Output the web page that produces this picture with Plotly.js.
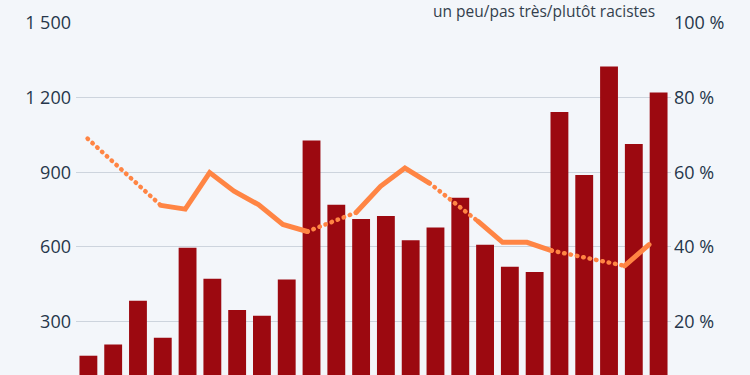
<!DOCTYPE html>
<html><head><meta charset="utf-8">
<script src="https://cdn.plot.ly/plotly-3.0.1.min.js"></script>
<style>
html,body{margin:0;padding:0;overflow:hidden;background:#f3f6fa;}
#chart{width:750px;height:430px;}
path.js-line{stroke-linecap:round;}
</style></head><body><div id="chart"></div>
<script>
// Data
const periods = [0,1,2,3,4,5,6,7,8,9,10,11,12,13,14,15,16,17,18,19,20,21,22,23];
const counts = [162,207,383,234,596,472,346,323,469,1027,769,712,724,626,678,797,608,520,499,1142,889,1325,1013,1221];
const sharePct = [69.0,null,null,51.1,50.1,59.9,54.9,51.3,46.0,44.1,null,49.2,56.2,61.1,57.1,null,46.8,41.2,41.2,39.0,null,null,34.9,40.6];
const leftTickVals = [300,600,900,1200,1500];
const leftTickText = ['300','600','900','1 200','1 500'];
const rightTickVals = [20,40,60,80,100];
const rightTickText = ['20 %','40 %','60 %','80 %','100 %'];
const legendText = 'un peu/pas très/plutôt racistes';

// Build dotted connectors across missing values
const dotX = [], dotY = [];
for (let i = 0; i < sharePct.length; i++) {
  if (sharePct[i] === null) {
    let a = i - 1; let b = i;
    while (b < sharePct.length && sharePct[b] === null) b++;
    if (a >= 0 && b < sharePct.length) {
      dotX.push(periods[a], periods[b], null);
      dotY.push(sharePct[a], sharePct[b], null);
    }
    i = b - 1;
  }
}

const barColor = '#9c0910';
const lineColor = '#ff8544';
const textColor = '#26364b';

const traces = [
  {type:'bar', x:periods, y:counts, marker:{color:barColor, line:{width:0}}, xaxis:'x', yaxis:'y', hoverinfo:'skip'},
  {type:'scatter', mode:'lines', x:dotX, y:dotY, connectgaps:false, line:{color:lineColor, width:4.5, dash:'0.5px,6px'}, xaxis:'x2', yaxis:'y2', hoverinfo:'skip'},
  {type:'scatter', mode:'lines', x:periods, y:sharePct, connectgaps:false, line:{color:lineColor, width:5}, xaxis:'x2', yaxis:'y2', hoverinfo:'skip'}
];

const layout = {
  width:750, height:430,
  margin:{l:76, r:79, t:23, b:34},
  paper_bgcolor:'#f3f6fa', plot_bgcolor:'#f3f6fa',
  font:{family:'"Open Sans", "Noto Sans", sans-serif', size:18, color:textColor},
  showlegend:false,
  bargap:0.28,
  xaxis:{range:[-0.5,23.5], showticklabels:false, showgrid:false, zeroline:false, ticks:'', fixedrange:true},
  xaxis2:{range:[-0.475,23.9], overlaying:'x', visible:false, fixedrange:true},
  yaxis:{range:[0,1500], tickvals:leftTickVals, ticktext:leftTickText, showgrid:true, gridcolor:'#cdd4dd', gridwidth:1, zeroline:false, ticks:'', showline:false, ticklabelstandoff:4},
  yaxis2:{range:[0,100], overlaying:'y', side:'right', tickvals:rightTickVals, ticktext:rightTickText, showgrid:false, zeroline:false, ticks:'', showline:false, ticklabelstandoff:2},
  annotations:[{text:legendText, xref:'paper', yref:'paper', x:0.786, y:1.033, xanchor:'center', yanchor:'middle', showarrow:false, font:{size:15.5, color:'#333f4d'}}]
};

Plotly.newPlot('chart', traces, layout, {displayModeBar:false, staticPlot:true});
</script></body></html>
